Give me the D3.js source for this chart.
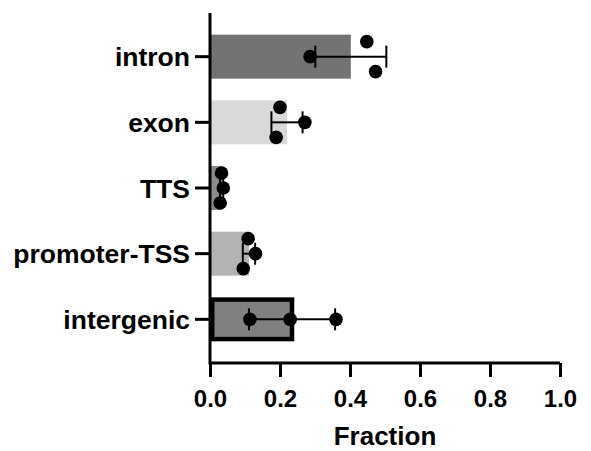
<!DOCTYPE html>
<html>
<head>
<meta charset="utf-8">
<script src="https://cdn.jsdelivr.net/npm/d3@7"></script>
<style>
  html, body { margin: 0; padding: 0; background: #fff; }
  svg { display: block; }
  text { font-family: "Liberation Sans", Arial, sans-serif; font-weight: bold; fill: #000; }
</style>
</head>
<body>
<svg id="chart" width="591" height="451"></svg>
<script>
const categories = ["intron", "exon", "TTS", "promoter-TSS", "intergenic"];
const rep1 = [0.448, 0.200, 0.033, 0.109, 0.114];
const rep2 = [0.286, 0.271, 0.038, 0.130, 0.229];
const rep3 = [0.473, 0.189, 0.029, 0.095, 0.360];
const barColors = ["#737373", "#d9d9d9", "#8c8c8c", "#b3b3b3", "#808080"];
const xTicks = [0, 0.2, 0.4, 0.6, 0.8, 1.0];
const xLabel = "Fraction";

const svg = d3.select("#chart");
const x = d3.scaleLinear().domain([0, 1]).range([210, 560]);
const y = d3.scaleBand().domain(categories).range([13, 363]).paddingInner(0.33).paddingOuter(0.33);

const data = categories.map((c, i) => {
  const vals = [rep1[i], rep2[i], rep3[i]];
  return { cat: c, vals, mean: d3.mean(vals), sd: d3.deviation(vals), color: barColors[i], i };
});

// bars
const bh = y.bandwidth();
const sw = 4.5;
svg.append("g").selectAll("rect").data(data).join("rect")
  .attr("x", d => d.cat === "intergenic" ? x(0) + sw / 2 : x(0))
  .attr("y", d => d.cat === "intergenic" ? y(d.cat) + sw / 2 : y(d.cat))
  .attr("width", d => d.cat === "intergenic" ? x(d.mean) - x(0) - sw / 2 : x(d.mean) - x(0))
  .attr("height", d => d.cat === "intergenic" ? bh - sw : bh)
  .attr("fill", d => d.color)
  .attr("stroke", d => d.cat === "intergenic" ? "#000" : "none")
  .attr("stroke-width", sw);

// error bars
const eg = svg.append("g").attr("stroke", "#000").attr("stroke-width", 2);
data.forEach(d => {
  const cy = y(d.cat) + bh / 2;
  const lo = d.mean - d.sd, hi = d.mean + d.sd;
  eg.append("line").attr("x1", x(lo)).attr("x2", x(hi)).attr("y1", cy).attr("y2", cy);
  [lo, hi].forEach(v => {
    eg.append("line").attr("x1", x(v)).attr("x2", x(v)).attr("y1", cy - 11).attr("y2", cy + 11);
  });
});

// dots
const dg = svg.append("g");
data.forEach(d => {
  const cy = y(d.cat) + bh / 2;
  const offsets = d.cat === "intergenic" ? [0, 0, 0] : [-15, 0, 15];
  d.vals.forEach((v, k) => {
    dg.append("circle").attr("cx", x(v)).attr("cy", cy + offsets[k]).attr("r", 6.8).attr("fill", "#000");
  });
});

// axes
const xAxis = d3.axisBottom(x).tickValues(xTicks).tickFormat(d3.format(".1f")).tickSize(14).tickPadding(13);
const gx = svg.append("g").attr("transform", "translate(0,363)").call(xAxis);
gx.attr("font-size", null).attr("font-family", null);
gx.select(".domain").attr("stroke-width", 3).attr("d", `M${x(0)},0H${x(1)}`);
gx.selectAll(".tick line").attr("stroke-width", 3);
gx.selectAll(".tick text").style("font-size", "24px");

const yAxis = d3.axisLeft(y).tickSize(15).tickPadding(5);
const gy = svg.append("g").attr("transform", "translate(210,0)").call(yAxis);
gy.attr("font-size", null).attr("font-family", null);
gy.select(".domain").attr("stroke-width", 3).attr("d", "M0,13V364.5");
gy.selectAll(".tick line").attr("stroke-width", 3);
gy.selectAll(".tick text").style("font-size", "26.5px").attr("dy", "0.36em");

svg.append("text").attr("x", x(0.5)).attr("y", 445).attr("text-anchor", "middle")
  .style("font-size", "26px").text(xLabel);
</script>
</body>
</html>
